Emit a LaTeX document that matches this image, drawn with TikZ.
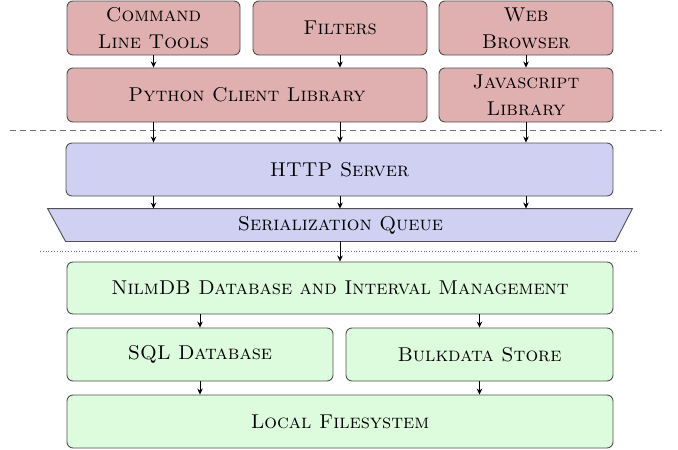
\documentclass[tikz,border=0pt]{standalone}
\usetikzlibrary{arrows.meta}
\definecolor{clientfill}{RGB}{224,176,177}
\definecolor{serverfill}{RGB}{208,208,243}
\definecolor{storefill}{RGB}{221,251,221}
\definecolor{edgegray}{RGB}{80,80,80}
\definecolor{sepgray}{RGB}{110,110,110}
\tikzset{
  layer/.style={draw=edgegray, line width=0.9pt, rounded corners=6pt,
    align=center, inner sep=0pt, font=\fontsize{20}{27}\selectfont\scshape},
  client/.style={layer, fill=clientfill},
  server/.style={layer, fill=serverfill},
  store/.style={layer, fill=storefill},
  arr/.style={-{Stealth[length=6pt,width=5.5pt]}, line width=0.8pt, black},
}
\begin{document}
\begin{tikzpicture}[x=1pt, y=-1pt]
\useasboundingbox (0,0) rectangle (678,450);

% client side
\node[client, minimum width=173pt, minimum height=54pt] (clt) at (153.5,28) {Command\\Line Tools};
\node[client, minimum width=174pt, minimum height=54pt] (filters) at (340,28) {Filters};
\node[client, minimum width=174pt, minimum height=54pt] (web) at (526,28) {Web\\Browser};
\node[client, minimum width=360pt, minimum height=54pt] (python) at (247,95) {Python Client Library};
\node[client, minimum width=174pt, minimum height=54pt] (js) at (526,95) {Javascript\\Library};

% network boundary
\coordinate (netL) at (10,130);
\coordinate (netR) at (662,130);
\draw[sepgray, line width=0.8pt, dash pattern=on 6pt off 4pt] (netL) -- (netR);

% server
\node[server, minimum width=547pt, minimum height=53pt] (http) at (339.5,169.5) {HTTP Server};
\node[layer, draw=none, minimum width=549pt, minimum height=32pt] (queue) at (340.5,225) {};
\draw[fill=serverfill, draw=edgegray, line width=0.9pt]
  ([xshift=-18pt]queue.north west) -- ([xshift=17pt]queue.north east)
  -- (queue.south east) -- (queue.south west) -- cycle;
\node[layer, draw=none] at (queue) {Serialization Queue};

% process boundary
\coordinate (procL) at (40,251);
\coordinate (procR) at (637,251);
\draw[sepgray, line width=0.8pt, dotted] (procL) -- (procR);

% storage
\node[store, minimum width=546pt, minimum height=52pt] (nilm) at (340,288) {NilmDB Database and Interval Management};
\node[store, minimum width=266pt, minimum height=53pt] (sql) at (200,354.5) {SQL Database};
\node[store, minimum width=267pt, minimum height=53pt] (bulk) at (479.5,354.5) {Bulkdata Store};
\node[store, minimum width=546pt, minimum height=53pt] (fs) at (340,421.5) {Local Filesystem};

% connectors
\draw[arr] (clt.south) -- (clt.south |- python.north);
\draw[arr] (filters.south) -- (filters.south |- python.north);
\draw[arr] (web.south) -- (js.north);
\foreach \col in {clt, filters} {
  \draw[arr] (python.south -| \col.south) -- (http.north -| \col.south);
}
\draw[arr] (js.south) -- (http.north -| js.south);
\foreach \col in {clt, filters, web} {
  \draw[arr] (http.south -| \col.south) -- (queue.north -| \col.south);
}
\draw[arr] (queue.south -| filters.south) -- (nilm.north -| filters.south);
\draw[arr] (nilm.south -| sql.north) -- (sql.north);
\draw[arr] (nilm.south -| bulk.north) -- (bulk.north);
\draw[arr] (sql.south) -- (fs.north -| sql.south);
\draw[arr] (bulk.south) -- (fs.north -| bulk.south);
\end{tikzpicture}
\end{document}
